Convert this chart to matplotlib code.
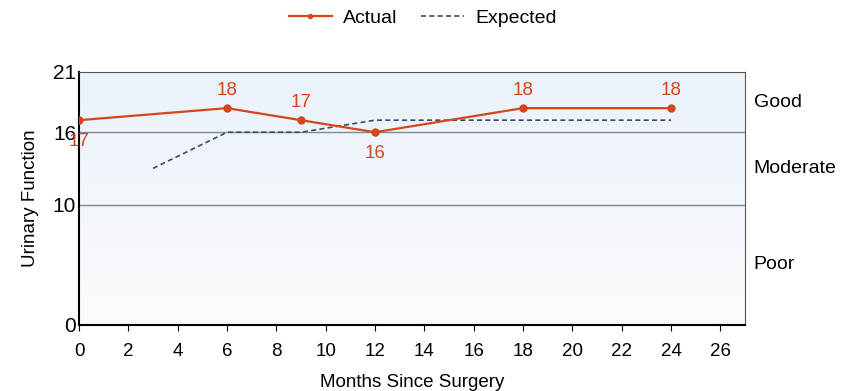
import matplotlib

matplotlib.use("Agg")
import matplotlib.pyplot as plt
import numpy as np

ORANGE = "#d5461a"
NAVY = "#3b4a66"

months_actual = [0, 6, 9, 12, 18, 24]
score_actual = [17, 18, 17, 16, 18, 18]
months_expected = [3, 6, 9, 12, 24]
score_expected = [13, 16, 16, 17, 17]
label_below = [True, False, False, True, False, False]

thresholds = [10, 16]
y_ticks = [0, 10, 16, 21]
x_ticks = list(range(0, 27, 2))
bands = [("Good", 18.5), ("Moderate", 13), ("Poor", 5)]

plt.rcParams["font.family"] = ["Liberation Sans", "DejaVu Sans"]

fig = plt.figure(figsize=(8.46, 3.91), dpi=100)
ax = fig.add_axes([0.0934, 0.1688, 0.7872, 0.6471])
ax.set_xlim(0, 27)
ax.set_ylim(0, 21)

# soft blue vertical gradient background
grad = np.linspace(0, 1, 256).reshape(-1, 1)
ax.imshow(grad, extent=[0, 27, 0, 21], origin="lower", aspect="auto",
          cmap=matplotlib.colors.LinearSegmentedColormap.from_list(
              "bg", ["#fafbfd", "#eaf2fa"]), zorder=0)

for t in thresholds:
    ax.axhline(t, color="#7d8a96", linewidth=1.0, zorder=1)

ax.plot(months_expected, score_expected, linestyle=(0, (3, 2)), color=NAVY,
        linewidth=1.2, zorder=2, label="Expected")
ax.plot(months_actual, score_actual, color=ORANGE, marker="o", markersize=5,
        linewidth=1.6, zorder=3, label="Actual")

for x, y, below in zip(months_actual, score_actual, label_below):
    ax.annotate(str(y), (x, y), xytext=(0, -15 if below else 13),
                textcoords="offset points", ha="center", va="center",
                color=ORANGE, fontsize=13.5)

for name, y in bands:
    ax.text(1.013, y / 21, name, transform=ax.transAxes, ha="left",
            va="center", fontsize=14)

ax.set_xticks(x_ticks)
ax.set_yticks(y_ticks)
ax.tick_params(axis="x", labelsize=13.5, length=4, pad=9)
ax.tick_params(axis="y", labelsize=15, length=0, pad=2)
ax.set_xlabel("Months Since Surgery", fontsize=13.5, labelpad=10)
ax.set_ylabel("Urinary Function", fontsize=13.5, labelpad=10)
for side in ["top", "right"]:
    ax.spines[side].set_color("#555555")
ax.spines["left"].set_linewidth(1.5)
ax.spines["bottom"].set_linewidth(1.5)

handles, labels = ax.get_legend_handles_labels()
fig.legend(handles[::-1], labels[::-1], loc="upper center",
           bbox_to_anchor=(0.5, 1.02), ncol=2, frameon=False, fontsize=14,
           handlelength=2.2, handletextpad=0.6, columnspacing=1.2,
           markerscale=0.6)

fig.savefig("out.png", dpi=100, facecolor="white")
